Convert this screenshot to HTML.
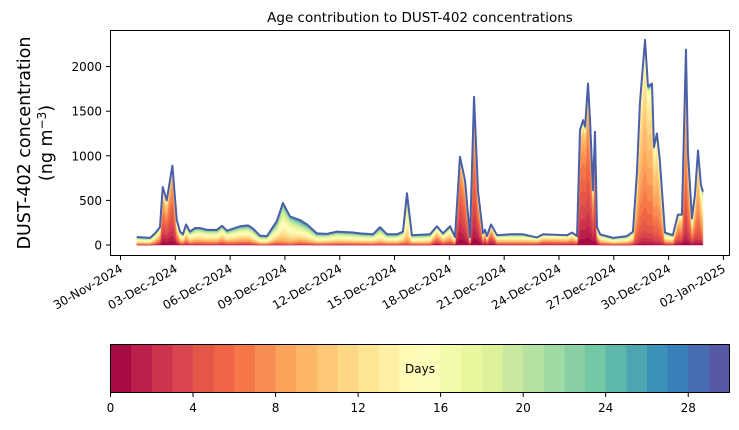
<!DOCTYPE html>
<html><head><meta charset="utf-8"><style>
body{margin:0;background:#fff}
svg{font-family:"DejaVu Sans","Liberation Sans",sans-serif}
</style></head><body>
<svg id="c" width="739" height="425" viewBox="0 0 739 425" xmlns="http://www.w3.org/2000/svg">
<text x="420" y="22" font-size="13.5" text-anchor="middle">Age contribution to DUST-402 concentrations</text>
<g transform="translate(30,143) rotate(-90)"><text x="0" y="0" font-size="17.5" text-anchor="middle">DUST-402 concentration</text><text x="0" y="22" font-size="17.5" text-anchor="middle">(ng m<tspan dy="-6" font-size="12">−3</tspan><tspan dy="6">)</tspan></text></g>
<g id="plot"></g>
<rect x="110.5" y="30.5" width="619" height="225" fill="none" stroke="#000" stroke-width="1"/>
<g id="cbar"></g>
<rect x="110.5" y="344.5" width="619" height="48" fill="none" stroke="#000" stroke-width="1"/>
<text x="420" y="373" font-size="12" text-anchor="middle">Days</text>
</svg>
<script>
const days=[0.90,1.61,1.89,2.16,2.31,2.53,2.84,3.08,3.26,3.42,3.59,3.80,4.08,4.35,4.73,5.28,5.56,5.83,6.54,6.98,7.25,7.63,8.02,8.56,8.89,9.28,9.82,10.21,10.75,11.30,11.85,12.73,13.10,13.82,14.20,14.59,15.13,15.46,15.68,15.95,16.94,17.32,17.65,18.04,18.31,18.58,18.86,19.13,19.35,19.57,19.84,19.95,20.06,20.28,20.61,21.32,22.03,22.80,23.13,24.44,24.72,24.99,25.15,25.32,25.43,25.59,25.70,25.86,25.97,26.08,26.25,26.96,27.72,28.05,28.27,28.43,28.71,28.87,29.09,29.20,29.36,29.52,29.80,30.23,30.51,30.73,30.95,31.06,31.28,31.44,31.61,31.77,31.88];
const totals=[90,80,130,200,650,500,890,280,150,120,230,150,190,190,170,170,215,160,210,220,185,105,100,270,470,320,280,230,130,125,150,140,130,120,200,120,120,150,580,110,120,210,130,210,90,990,720,90,1660,600,130,170,100,230,110,120,120,85,120,110,140,100,1290,1400,1330,1810,1400,615,1270,200,120,80,100,150,820,1590,2300,1780,1810,1100,1250,950,140,110,340,340,2190,1030,300,560,1060,670,600];
const meanAge=[14,14,12,9,5,5,5,8,12,12,11,13,13,13,13,13,12,13,13,13,14,15,15,15,15,15,15,15,15,14,14,14,14,14,15,14,14,13,15,14,14,8,11,11,12,4,5,11,5,4,8,3,8,3,11,12,12,10,9,9,9,10,5,5,5,5,5,5,5,8,12,13,13,12,9,9,9,9,9,9,9,9,12,12,7,7,7,7,9,8,8,9,11];
const ageSpread=[7,7,7,7,5,5,3.5,7,7,7,7,7,7,7,7,7,7,7,7,7,7,7,7,7,5,5,7,7,7,7,7,7,7,7,7,7,7,7,5,7,7,7,7,7,7,3.5,3.5,7,3.5,5,7,7,7,7,7,7,7,7,7,7,7,7,3.5,3.5,3.5,3.5,3.5,5,3.5,7,7,7,7,7,3.5,3.5,3.5,3.5,3.5,3.5,3.5,3.5,7,7,5,5,3.5,3.5,7,5,3.5,5,5];
const yTicks=[0,500,1000,1500,2000];
const xTickLabels=["30-Nov-2024","03-Dec-2024","06-Dec-2024","09-Dec-2024","12-Dec-2024","15-Dec-2024","18-Dec-2024","21-Dec-2024","24-Dec-2024","27-Dec-2024","30-Dec-2024","02-Jan-2025"];
const xTickDays=[0,3,6,9,12,15,18,21,24,27,30,33];
const cbTicks=[0,4,8,12,16,20,24,28];
const NL=30;
const X=d=>120.5+d*18.27, Y=v=>245-v*0.0892, CX=a=>110.5+a*619/30;
const NS="http://www.w3.org/2000/svg";
const stops=[[158,1,66],[213,62,79],[244,109,67],[253,174,97],[254,224,139],[255,255,191],[230,245,152],[171,221,164],[102,194,165],[50,136,189],[94,79,162]];
function col(t){const p=t*10,i=Math.min(9,Math.floor(p)),f=p-i;const c=stops[i].map((v,k)=>Math.round(v+(stops[i+1][k]-v)*f));return `rgb(${c.join(',')})`;}
const plot=document.getElementById('plot');
const shares=meanAge.map((m,j)=>{const sd=ageSpread[j];const w=[];let s=0;for(let i=0;i<NL;i++){const v=Math.exp(-0.5*((i+0.5-m)/sd)**2)+0.02;w.push(v);s+=v;}return w.map(v=>v/s);});
let cum=days.map(()=>0);
for(let i=0;i<NL;i++){
  const lo=cum.slice();cum=cum.map((c,j)=>c+totals[j]*shares[j][i]);
  let pts=days.map((d,j)=>X(d).toFixed(1)+','+Y(cum[j]).toFixed(1));
  for(let j=days.length-1;j>=0;j--)pts.push(X(days[j]).toFixed(1)+','+Y(lo[j]).toFixed(1));
  const p=document.createElementNS(NS,'polygon');p.setAttribute('points',pts.join(' '));p.setAttribute('fill',col((i+0.5)/NL));p.setAttribute('stroke',col((i+0.5)/NL));p.setAttribute('stroke-width','0.5');
  
  
  plot.appendChild(p);
}
const totalLine=document.createElementNS(NS,'polyline');totalLine.setAttribute('points',days.map((d,j)=>X(d)+','+Y(totals[j])).join(' '));totalLine.setAttribute('fill','none');totalLine.setAttribute('stroke','#4a5fa8');totalLine.setAttribute('stroke-width','2');totalLine.setAttribute('stroke-linejoin','round');


plot.appendChild(totalLine);
yTicks.forEach(v=>{const g=document.createElementNS(NS,'g');


g.innerHTML=`<line x1="106" x2="110.5" y1="${Y(v)}" y2="${Y(v)}" stroke="#000"/><text x="102" y="${Y(v)+4.5}" font-size="12" text-anchor="end">${v}</text>`;plot.appendChild(g);});
xTickDays.forEach((d,k)=>{const x=X(d);const g=document.createElementNS(NS,'g');


g.innerHTML=`<line x1="${x}" x2="${x}" y1="255.5" y2="260" stroke="#000"/><text transform="translate(${x+3},271) rotate(-30)" font-size="12" text-anchor="end">${xTickLabels[k]}</text>`;plot.appendChild(g);});
const cb=document.getElementById('cbar');
for(let i=0;i<NL;i++){const r=document.createElementNS(NS,'rect');r.setAttribute('x',CX(i));r.setAttribute('y',344.5);r.setAttribute('width',619/30+0.5);r.setAttribute('height',48);r.setAttribute('fill',col((i+0.5)/NL));


cb.appendChild(r);}
cbTicks.forEach(v=>{const g=document.createElementNS(NS,'g');


g.innerHTML=`<line x1="${CX(v)}" x2="${CX(v)}" y1="392.5" y2="397" stroke="#000"/><text x="${CX(v)}" y="412" font-size="12" text-anchor="middle">${v}</text>`;cb.appendChild(g);});
</script>
</body></html>
